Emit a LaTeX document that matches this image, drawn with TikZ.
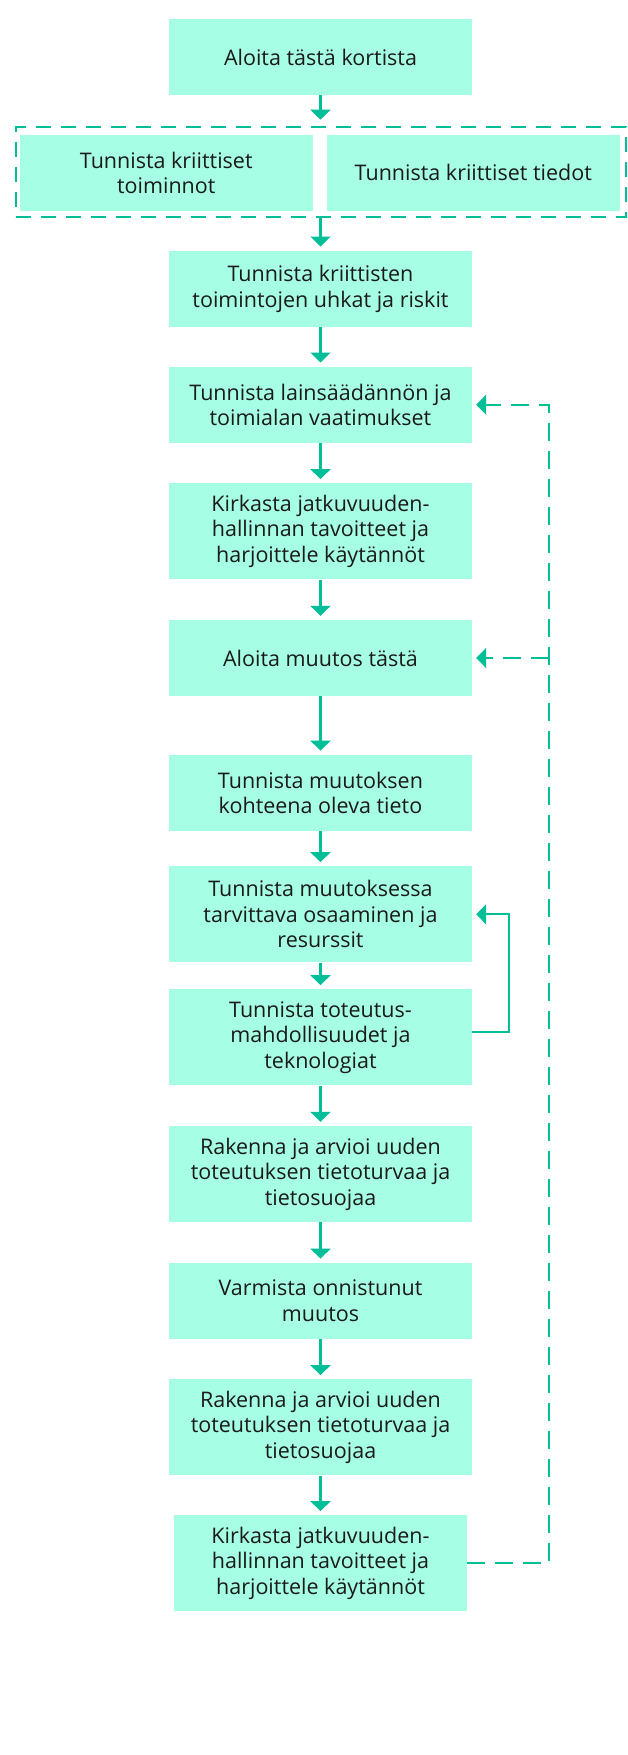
\documentclass[tikz,border=0pt]{standalone}
\usepackage{fontspec}
\setmainfont{Open Sans}
\usetikzlibrary{arrows.meta}
\definecolor{boxfill}{HTML}{A6FFE4}
\definecolor{linegreen}{HTML}{00BF98}
\definecolor{textdark}{HTML}{1A1A1A}

\begin{document}
\begin{tikzpicture}[x=1pt,y=-1pt,
    card/.style={fill=boxfill, text=textdark, align=center, inner sep=0pt,
        minimum width=303pt, minimum height=76pt,
        font=\fontsize{21.5pt}{25.5pt}\selectfont},
    tall/.style={card, minimum height=96pt},
    flow/.style={color=linegreen, line width=2.2pt,
        -{Triangle[width=20pt,length=10pt]}, shorten >=4pt},
    back/.style={flow, dash pattern=on 18pt off 10pt}]
    \useasboundingbox (0,0) rectangle (627,1755);

    % dashed group round the two first tasks
    \node[draw=linegreen, line width=2pt, dash pattern=on 15pt off 10pt,
        inner sep=0pt, minimum width=610pt, minimum height=90pt] (grp) at (320.5,171.7) {};

    \node[card] (start) at (320.5,57) {Aloita tästä kortista};
    \node[card, minimum width=292.7pt, minimum height=75.7pt] (func) at (166.3,172.8) {Tunnista kriittiset\\toiminnot};
    \node[card, minimum width=293.3pt, minimum height=75.7pt] (data) at (473.3,172.8) {Tunnista kriittiset tiedot};
    \node[card] (threat) at (320.5,288.7) {Tunnista kriittisten\\toimintojen uhkat ja riskit};
    \node[card] (laws) at (320.5,404.7) {Tunnista lainsäädännön ja\\toimialan vaatimukset};
    \node[tall] (goals) at (320.5,531.3) {Kirkasta jatkuvuuden-\\hallinnan tavoitteet ja\\harjoittele käytännöt};
    \node[card] (change) at (320.5,658) {Aloita muutos tästä};
    \node[card] (target) at (320.5,792.8) {Tunnista muutoksen\\kohteena oleva tieto};
    \node[tall] (skills) at (320.5,914.3) {Tunnista muutoksessa\\tarvittava osaaminen ja\\resurssit};
    \node[tall] (tech) at (320.5,1037.3) {Tunnista toteutus-\\mahdollisuudet ja\\teknologiat};
    \node[tall] (build) at (320.5,1174) {Rakenna ja arvioi uuden\\toteutuksen tietoturvaa ja\\tietosuojaa};
    \node[card] (verify) at (320.5,1300.8) {Varmista onnistunut\\muutos};
    \node[tall] (rebuild) at (320.5,1427.3) {Rakenna ja arvioi uuden\\toteutuksen tietoturvaa ja\\tietosuojaa};
    \node[tall, minimum width=293pt] (regoals) at (320.5,1563.3) {Kirkasta jatkuvuuden-\\hallinnan tavoitteet ja\\harjoittele käytännöt};

    \path[flow]
    (start) edge[shorten >=6pt] (grp)
    (grp) edge (threat)
    (threat) edge (laws)
    (laws) edge (goals)
    (goals) edge (change)
    (change) edge (target)
    (target) edge (skills)
    (skills) edge (tech)
    (tech) edge (build)
    (build) edge (verify)
    (verify) edge (rebuild)
    (rebuild) edge (regoals);

    % loops back
    \coordinate (loop) at (509.3,914.3);
    \coordinate (turn) at (549,404.7);
    \draw[flow] ([yshift=5.3pt]tech.east) -| (loop) -- (skills.east);
    \draw[back] (regoals.east) -| (turn) -- (laws.east);
    \draw[back] (turn |- change.east) -- (change.east);
\end{tikzpicture}
\end{document}
